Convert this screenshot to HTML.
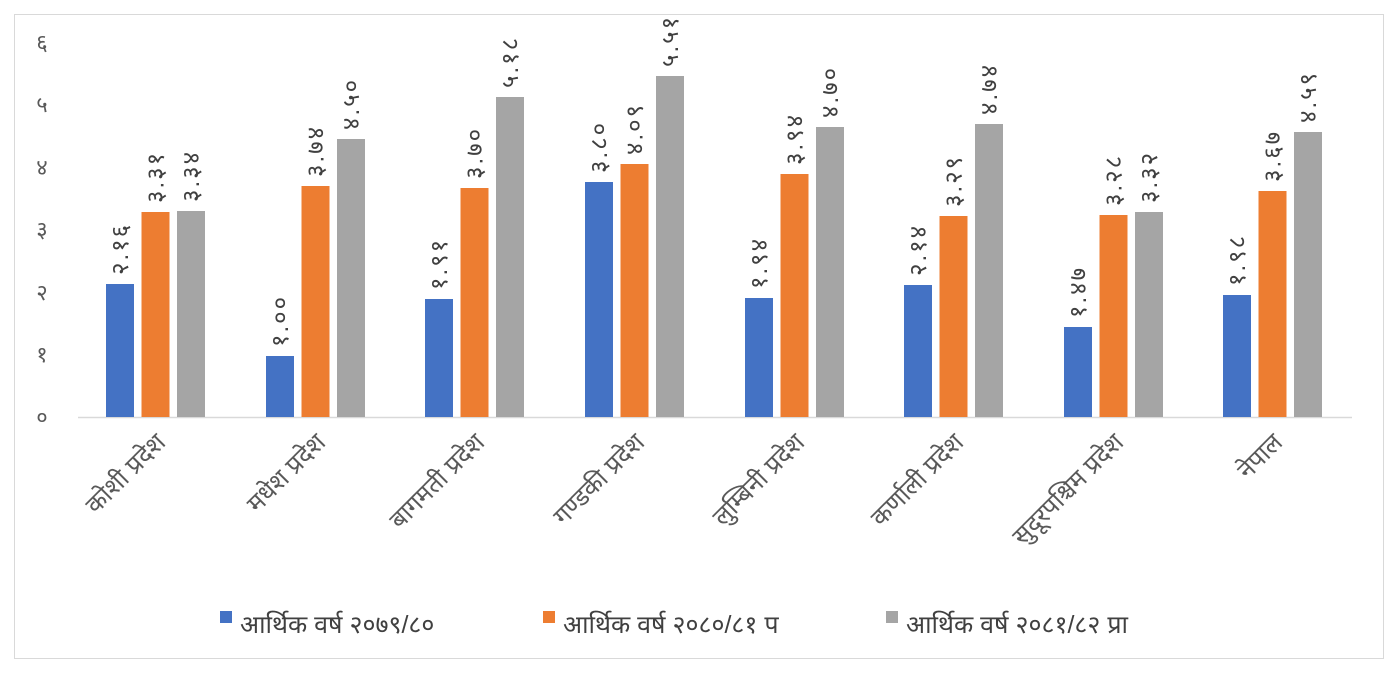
<!DOCTYPE html>
<html><head><meta charset="utf-8"><style>
body{margin:0;background:#fff;}
svg text{font-family:"Liberation Sans","Noto Sans Devanagari","Lohit Devanagari","FreeSans",sans-serif;}
</style></head><body>
<svg width="1399" height="673" xmlns="http://www.w3.org/2000/svg">
<rect x="14.5" y="14.5" width="1369" height="644" fill="#fff" stroke="#d9d9d9"/>
<g font-size="22" fill="#595959" text-anchor="middle">
<text x="42" y="425">०</text><text x="42" y="362">१</text><text x="42" y="300">२</text><text x="42" y="237">३</text><text x="42" y="175">४</text><text x="42" y="112">५</text><text x="42" y="50">६</text>
</g>
<line x1="78" y1="417.5" x2="1352" y2="417.5" stroke="#d9d9d9" stroke-width="1.5"/>
<g id="bars"></g>
<g font-size="25" fill="#404040">
<rect x="220" y="611" width="12" height="12" fill="#4472c4"/><text x="240" y="633">आर्थिक वर्ष २०७९/८०</text>
<rect x="543" y="611" width="12" height="12" fill="#ed7d31"/><text x="563" y="633">आर्थिक वर्ष २०८०/८१ प</text>
<rect x="886" y="611" width="12" height="12" fill="#a5a5a5"/><text x="906" y="633">आर्थिक वर्ष २०८१/८२ प्रा</text>
</g>
</svg>
<script>
var g=document.getElementById('bars');
var starts=[106,266,425,585,745,904,1064,1223];
var tops=[[284,212,211],[356,186,139],[299,188,97],[182,164,76],[298,174,127],[285,216,124],[327,215,212],[295,191,132]];
var labs=[["२.१६","३.३१","३.३४"],["१.००","३.७४","४.५०"],["१.९१","३.७०","५.१८"],["३.८०","४.०९","५.५१"],["१.९४","३.९४","४.७०"],["२.१४","३.२९","४.७४"],["१.४७","३.२८","३.३२"],["१.९८","३.६७","४.५९"]];
var cats=["कोशी प्रदेश","मधेश प्रदेश","बागमती प्रदेश","गण्डकी प्रदेश","लुम्बिनी प्रदेश","कर्णाली प्रदेश","सुदूरपश्चिम प्रदेश","नेपाल"];
var cols=["#4472c4","#ed7d31","#a5a5a5"];
var s='';
for(var i=0;i<8;i++){
 for(var j=0;j<3;j++){
  var x=starts[i]+j*35.5,t=tops[i][j];
  s+='<rect x="'+x+'" y="'+t+'" width="28" height="'+(417-t)+'" fill="'+cols[j]+'"/>';
  var cx=x+14+8,cy=t-9;
  s+='<text font-size="24" fill="#404040" letter-spacing="2" transform="translate('+cx+','+cy+') rotate(-90)">'+labs[i][j]+'</text>';
 }
 var c=starts[i]+49;
 s+='<text font-size="25" fill="#595959" text-anchor="end" transform="translate('+(c+12)+',444) rotate(-45)">'+cats[i]+'</text>';
}
g.innerHTML=s;
</script>
</body></html>
